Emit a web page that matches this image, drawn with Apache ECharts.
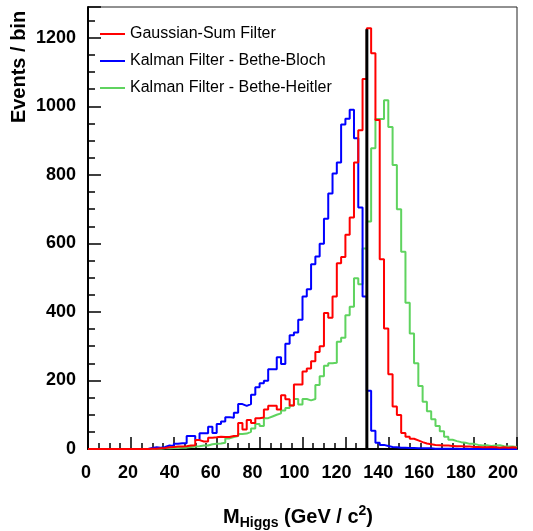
<!DOCTYPE html>
<html>
<head>
<meta charset="utf-8">
<script src="https://cdn.jsdelivr.net/npm/echarts@6/dist/echarts.min.js"></script>
<style>
html,body{margin:0;padding:0;background:#fff;}
#chart{width:533px;height:531px;}
</style>
</head>
<body>
<div id="chart"></div>
<script>
// Histogram binning: 100 bins of 2 GeV between 0 and 200
const xMin = 0, xMax = 200, binWidth = 2;
const xTicks = [0, 20, 40, 60, 80, 100, 120, 140, 160, 180, 200];
const yTicks = [0, 200, 400, 600, 800, 1000, 1200];

const seriesNames = ['Gaussian-Sum Filter', 'Kalman Filter - Bethe-Bloch', 'Kalman Filter - Bethe-Heitler'];

// Gaussian-Sum Filter (red)
const gsfCounts = [
  0,0,0,0,0,0,0,0,0,0,
  0,0,0,0,1,1,2,3,5,6,
  7,7,8,10,11,26,22,22,33,34,
  36,35,35,38,39,76,57,85,76,90,
  92,115,126,126,115,157,145,127,188,188,
  226,235,256,283,300,397,383,445,542,560,
  625,676,836,930,1080,1228,1155,960,554,352,
  218,124,99,47,36,30,25,20,16,14,
  12,11,10,10,9,8,8,7,7,6,
  6,5,5,6,5,4,5,4,5,4
];

// Kalman Filter - Bethe-Bloch (blue)
const kfBlochCounts = [
  0,0,0,0,0,0,0,0,0,0,
  0,0,0,0,3,5,4,6,10,9,
  15,17,17,38,38,26,46,46,65,47,
  73,80,93,91,106,131,126,131,158,180,
  192,199,233,233,268,248,307,332,340,377,
  445,466,539,562,599,672,746,804,836,947,
  964,990,907,705,445,170,53,18,12,9,
  6,5,4,4,3,3,2,2,2,2,
  1,1,1,1,1,1,0,1,0,0,
  0,0,0,0,0,0,0,0,0,0
];

// Kalman Filter - Bethe-Heitler (green)
const kfHeitlerCounts = [
  0,0,0,0,0,0,0,0,0,0,
  0,0,0,0,0,1,1,2,2,3,
  3,4,4,6,7,8,10,10,14,15,
  16,18,31,35,38,44,45,50,60,73,
  67,90,95,100,104,112,120,127,146,130,
  146,142,146,187,212,243,250,252,313,325,
  390,415,498,481,585,664,878,963,963,1018,
  940,829,700,576,427,337,250,184,138,110,
  87,67,52,36,27,23,20,18,15,15,
  12,10,11,9,10,11,8,7,7,6
];

// True Higgs mass marker
const trueMass = 130;
const trueMassLineTop = 1225;
const yMaxPlot = 1290;

function histPoints(counts) {
  const pts = counts.map((c, i) => [xMin + i * binWidth, c]);
  pts.push([xMax, counts[counts.length - 1]]);
  return pts;
}

const FONT = "'Liberation Sans', Arial, Helvetica, sans-serif";
const chart = echarts.init(document.getElementById('chart'), null, {renderer: 'canvas'});

const colors = ['#ff0000', '#0000ff', '#5fd35f'];

// x tick labels in the reference sit slightly left of their ticks (progressively)
const xLabelRich = {};
xTicks.forEach(v => {
  const shift = Math.round(2 + 0.06 * v);
  xLabelRich['t' + v] = {
    fontFamily: FONT, fontSize: 18, fontWeight: 'bold', color: '#000',
    padding: [0, 2 * shift, 0, 0]
  };
});

chart.setOption({
  animation: false,
  backgroundColor: '#fff',
  grid: {
    left: 88, right: 16, top: 7, bottom: 82,
    outerBoundsMode: 'none', containLabel: false,
    show: true, borderColor: '#222', borderWidth: 1, backgroundColor: 'transparent'
  },
  legend: {
    data: seriesNames,
    orient: 'vertical',
    left: 95, top: 21,
    itemWidth: 25, itemHeight: 2, itemGap: 11,
    icon: 'rect',
    textStyle: {fontFamily: FONT, fontSize: 16, color: '#000'},
    selectedMode: false
  },
  xAxis: {
    type: 'value', min: xMin, max: xMax, interval: 20,
    axisLine: {show: true, lineStyle: {color: '#000', width: 2}},
    axisTick: {show: true, inside: true, length: 12, lineStyle: {color: '#000', width: 1.5}},
    minorTick: {show: true, splitNumber: 4, length: 6, lineStyle: {color: '#000', width: 1.5}},
    splitLine: {show: false},
    axisLabel: {
      fontFamily: FONT, fontSize: 18, fontWeight: 'bold', color: '#000', margin: 15,
      hideOverlap: false,
      rich: xLabelRich,
      formatter: v => (xTicks.indexOf(v) >= 0 ? '{t' + v + '|' + v + '}' : '')
    },
    name: '{m|M}{sub|Higgs}{m| (GeV / c}{sup|2}{m|)}',
    nameLocation: 'middle', nameGap: 55,
    nameTextStyle: {
      padding: [0, 9, 0, 0],
      rich: {
        m: {fontFamily: FONT, fontSize: 20, fontWeight: 'bold', color: '#000', lineHeight: 26, verticalAlign: 'middle'},
        sub: {fontFamily: FONT, fontSize: 14, fontWeight: 'bold', color: '#000', lineHeight: 14, verticalAlign: 'bottom'},
        sup: {fontFamily: FONT, fontSize: 14, fontWeight: 'bold', color: '#000', lineHeight: 14, verticalAlign: 'top'}
      }
    }
  },
  yAxis: {
    type: 'value', min: 0, max: yMaxPlot, interval: 200,
    axisLine: {show: true, lineStyle: {color: '#000', width: 2}},
    axisTick: {show: true, inside: true, length: 13, lineStyle: {color: '#000', width: 1.5}},
    minorTick: {show: true, splitNumber: 4, length: 7, lineStyle: {color: '#000', width: 1.5}},
    splitLine: {show: false},
    axisLabel: {
      fontFamily: FONT, fontSize: 18, fontWeight: 'bold', color: '#000', margin: 12,
      showMaxLabel: false,
      formatter: v => (yTicks.indexOf(v) >= 0 ? String(v) : '')
    }
  },
  graphic: [{
    type: 'text',
    x: 19, y: 67,
    rotation: Math.PI / 2,
    style: {
      text: 'Events / bin',
      font: "bold 20px " + FONT,
      fill: '#000',
      align: 'center',
      verticalAlign: 'middle'
    }
  }],
  series: [
    {
      name: seriesNames[2], type: 'line', step: 'end', showSymbol: false, symbol: 'none',
      data: histPoints(kfHeitlerCounts), color: colors[2],
      lineStyle: {color: colors[2], width: 2}, z: 2
    },
    {
      name: seriesNames[1], type: 'line', step: 'end', showSymbol: false, symbol: 'none',
      data: histPoints(kfBlochCounts), color: colors[1],
      lineStyle: {color: colors[1], width: 2}, z: 3
    },
    {
      name: seriesNames[0], type: 'line', step: 'end', showSymbol: false, symbol: 'none',
      data: histPoints(gsfCounts), color: colors[0],
      lineStyle: {color: colors[0], width: 2}, z: 4
    },
    {
      name: 'true mass', type: 'line', showSymbol: false, symbol: 'none',
      data: [[trueMass, 0], [trueMass, trueMassLineTop]],
      lineStyle: {color: '#000', width: 3}, z: 5
    }
  ]
});
</script>
</body>
</html>
